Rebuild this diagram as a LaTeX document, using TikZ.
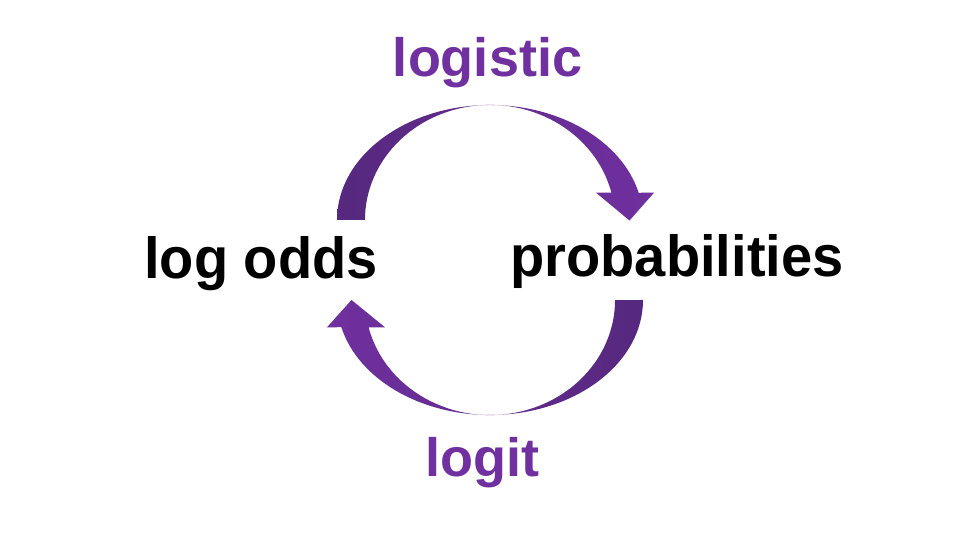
\documentclass[tikz,border=0pt]{standalone}
\usepackage{fontspec}
\setmainfont{Liberation Sans}
\usetikzlibrary{calc}
\definecolor{lightpurple}{HTML}{7030A0}
\definecolor{darkpurple}{HTML}{56287E}
\tikzset{
  term/.style={font=\bfseries\fontsize{58}{60}\selectfont, text=black, inner sep=0pt, anchor=base, xscale=0.966},
  fname/.style={font=\bfseries\fontsize{54}{56}\selectfont, text=lightpurple, inner sep=0pt, anchor=base},
}
\begin{document}
\begin{tikzpicture}[x=1pt,y=1pt]
\path[use as bounding box, fill=white] (0,0) rectangle (960,540);
% centres of the two curved arrows
\coordinate (ctop) at (490,320);
\coordinate (cbot) at (490,240);
% top arrow: log odds -> probabilities
\shade[left color=darkpurple, right color=lightpurple]
  ($(ctop)+(-153,0)$) arc[start angle=180, end angle=13.7, x radius=153, y radius=115]
  -- ($(ctop)+(164,27.3)$) -- ($(ctop)+(139.5,-0.5)$) -- ($(ctop)+(106,27.3)$)
  -- ($(ctop)+(121.4,27.3)$) arc[start angle=13.7, end angle=180, x radius=125, y radius=115]
  -- cycle;
% bottom arrow: probabilities -> log odds
\shade[left color=lightpurple, right color=darkpurple]
  ($(cbot)+(153,0)$) arc[start angle=360, end angle=193.7, x radius=153, y radius=115]
  -- ($(cbot)+(-163,-27.3)$) -- ($(cbot)+(-138.5,0)$) -- ($(cbot)+(-105,-27.3)$)
  -- ($(cbot)+(-121.4,-27.3)$) arc[start angle=193.7, end angle=360, x radius=125, y radius=115]
  -- cycle;
\node[term] (logodds) at (261,261) {log odds};
\node[term] (prob) at (677,263) {probabilities};
\node[fname] (logistic) at (487.5,463) {logistic};
\node[fname] (logit) at (482.5,63) {logit};
\end{tikzpicture}
\end{document}
